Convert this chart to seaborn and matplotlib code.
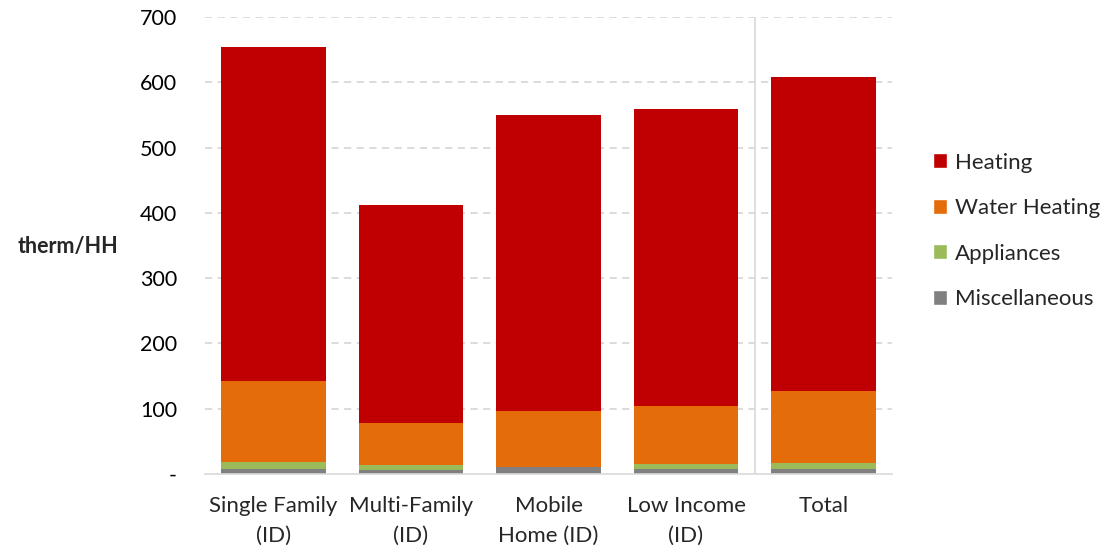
import numpy as np
import pandas as pd
import matplotlib
matplotlib.use("Agg")
import matplotlib.pyplot as plt
import seaborn as sns
from matplotlib.patches import Patch

# values (therm per household)
categories = ["Single Family\n(ID)", "Multi-Family\n(ID)", "Mobile\nHome (ID)", "Low Income\n(ID)", "Total"]
miscellaneous = [8, 6, 10, 8, 8]
appliances = [10, 7, 0, 7, 9]
water_heating = [124, 65, 87, 89, 110]
heating = [513, 334, 453, 455, 482]

series = ["Heating", "Water Heating", "Appliances", "Miscellaneous"]
colors = {"Heating": "#C00000", "Water Heating": "#E46C0A",
          "Appliances": "#9BBB59", "Miscellaneous": "#808080"}

sns.set_style("white")
plt.rcParams["font.family"] = ["Lato", "DejaVu Sans"]

# cumulative heights so the stack can be drawn by overlaying bars
cum_misc = np.array(miscellaneous)
cum_app = cum_misc + np.array(appliances)
cum_water = cum_app + np.array(water_heating)
cum_heat = cum_water + np.array(heating)

df = pd.DataFrame({"category": categories, "Heating": cum_heat, "Water Heating": cum_water,
                   "Appliances": cum_app, "Miscellaneous": cum_misc})

fig = plt.figure(figsize=(11.07, 5.53), dpi=100)
ax = fig.add_axes([0.185, 0.143, 0.621, 0.826])

grid_color = "#D9D9D9"
for y in range(100, 701, 100):
    ax.axhline(y, color=grid_color, linestyle=(0, (4, 3)), linewidth=1.3, zorder=0)

for s in series:
    sns.barplot(data=df, x="category", y=s, color=colors[s], width=0.76,
                linewidth=0, saturation=1, ax=ax, zorder=2)

# separator before the Total bar
ax.axvline(3.5, color=grid_color, linewidth=1.2, zorder=1)

ax.set_ylim(0, 700)
ax.set_xlim(-0.5, 4.5)
ax.set_yticks(range(0, 701, 100))
ax.set_yticklabels(["-"] + [str(v) for v in range(100, 701, 100)])
ax.tick_params(axis="y", length=0, pad=20, labelsize=15.5, labelcolor="#000000")

ax.set_xticks(np.arange(-0.5, 5, 1))
ax.set_xticklabels([])
ax.tick_params(axis="x", which="major", length=10, width=1.2, color=grid_color)
ax.set_xticks(range(5), minor=True)
ax.set_xticklabels(categories, minor=True, fontsize=16, linespacing=1.6)
ax.tick_params(axis="x", which="minor", length=0, pad=16)

for side in ["left", "right", "top"]:
    ax.spines[side].set_visible(False)
ax.spines["bottom"].set_color(grid_color)
ax.spines["bottom"].set_linewidth(1.2)

ax.set_xlabel("")
ax.set_ylabel("therm/HH", fontsize=15.5, fontweight="bold", rotation=0, labelpad=0,
              ha="center", va="center")
ax.yaxis.set_label_coords(-0.199, 0.497)

handles = [Patch(facecolor=colors[s], label=s) for s in series]
ax.legend(handles=handles, loc="center left", bbox_to_anchor=(1.046, 0.532), frameon=False,
          fontsize=16, handlelength=0.65, handleheight=0.65, handletextpad=0.35,
          labelspacing=1.15, borderaxespad=0)

fig.savefig("out.png", dpi=100)
